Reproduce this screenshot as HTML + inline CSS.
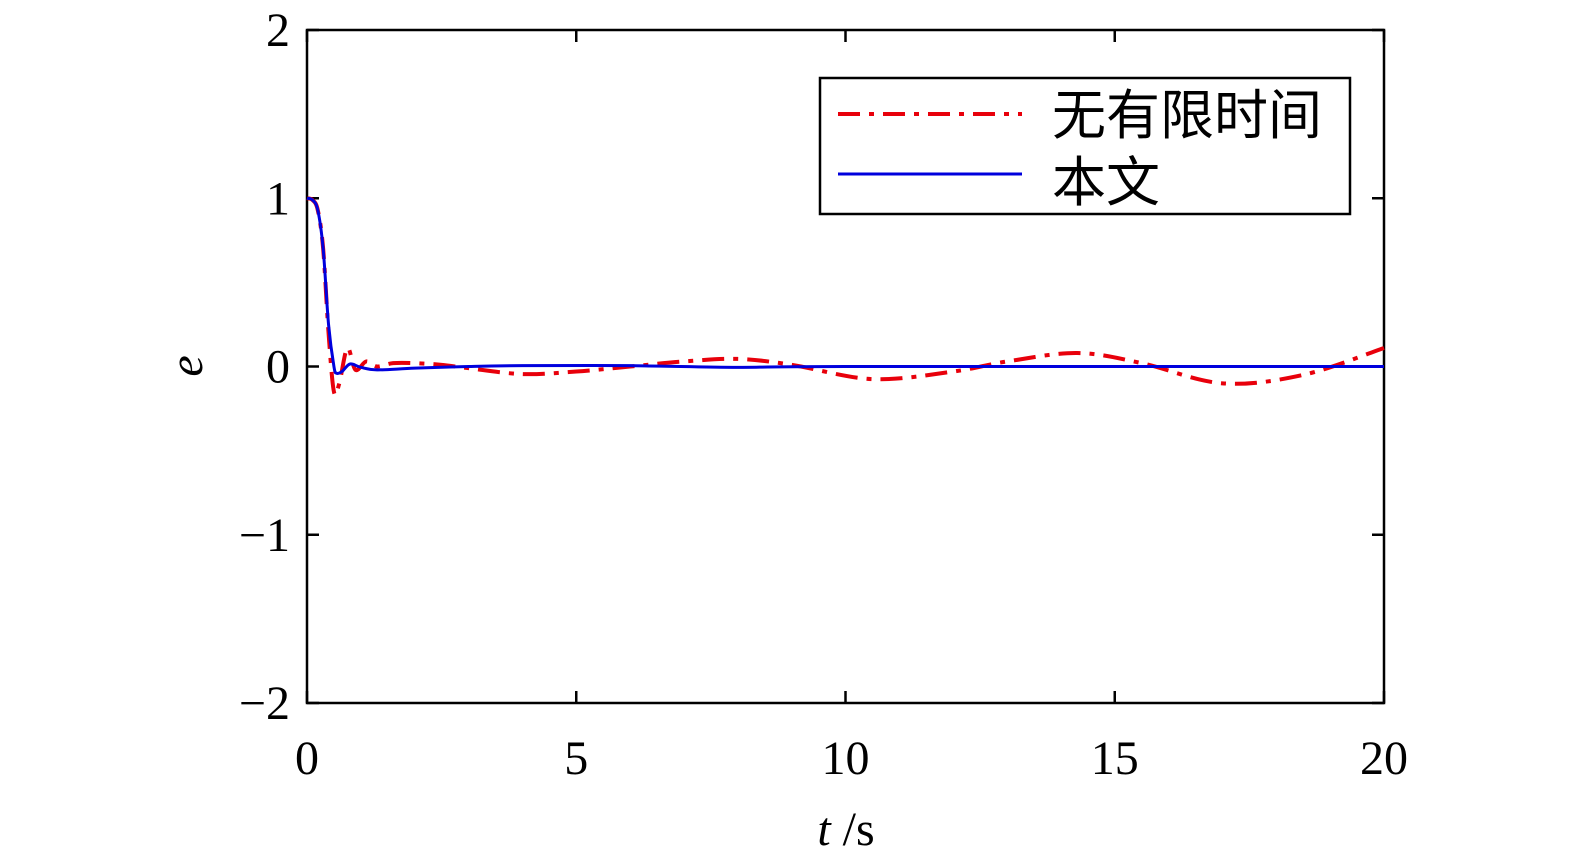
<!DOCTYPE html>
<html><head><meta charset="utf-8"><style>
body{margin:0;background:#fff}
svg text{font-family:"Liberation Serif","Noto Serif CJK SC",serif;fill:#000}
</style></head><body>
<svg width="1575" height="862">
<g id="axes"></g>
<g id="series"></g>
<g>
<rect x="820" y="78" width="530" height="136" fill="#fff" stroke="#000" stroke-width="2.5"/>
<line x1="838" y1="114" x2="1022" y2="114" stroke="#e8000b" stroke-width="4" stroke-dasharray="22,9,5,9"/>
<text x="1052" y="134" font-size="54" style="font-family:'Noto Sans CJK SC',sans-serif">无有限时间</text>
<line x1="838" y1="174" x2="1022" y2="174" stroke="#0000dd" stroke-width="3"/>
<text x="1052" y="201" font-size="54" style="font-family:'Noto Sans CJK SC',sans-serif">本文</text>
</g>
<text x="202" y="366" font-size="48" font-style="italic" text-anchor="middle" transform="rotate(-90 202 366)">e</text>
<text x="846" y="845" font-size="48" text-anchor="middle"><tspan font-style="italic">t</tspan> /s</text>
</svg>
<script>
const xTicks=[0,5,10,15,20];
const yTicks=[-2,-1,0,1,2];
const redT=[0,0.1,0.2,0.3,0.4,0.5,0.6,0.75,0.9,1.1,1.3,1.6,2,2.5,3,4,5,6,7,8,9,10.5,12,13,14.3,15.5,17,18.5,20];
const redE=[1,0.99,0.93,0.7,0.2,-0.15,-0.1,0.11,-0.02,0.03,0.0,0.02,0.02,0.01,-0.01,-0.045,-0.03,0.0,0.03,0.045,0.01,-0.075,-0.03,0.03,0.08,0.02,-0.1,-0.05,0.11];
const blueT=[0,0.1,0.2,0.3,0.4,0.5,0.55,0.65,0.8,1.0,1.3,2,3,4,6,8,10,20];
const blueE=[1,0.99,0.93,0.7,0.25,0.0,-0.04,-0.03,0.015,-0.005,-0.02,-0.01,0.0,0.005,0.005,-0.005,0.0,0.0];
const X0=307,X1=1384,Y0=703,Y1=30;
const sx=t=>X0+t/20*(X1-X0);
const sy=v=>Y0-(v+2)/4*(Y0-Y1);
const NS="http://www.w3.org/2000/svg";
const ax=document.getElementById('axes');
function el(tag,attrs,parent){const e=document.createElementNS(NS,tag);for(const k in attrs)e.setAttribute(k,attrs[k]);parent.appendChild(e);return e;}
const frame=el('rect',{x:X0,y:Y1,width:X1-X0,height:Y0-Y1,fill:'none',stroke:'#000','stroke-width':2.5},ax);


xTicks.forEach(t=>{
 const x=sx(t);
 el('line',{x1:x,y1:Y0,x2:x,y2:Y0-12,stroke:'#000','stroke-width':2.5},ax);
 el('line',{x1:x,y1:Y1,x2:x,y2:Y1+12,stroke:'#000','stroke-width':2.5},ax);
 const tx=el('text',{x:x,y:774,'font-size':48,'text-anchor':'middle'},ax);
 tx.textContent=t;
 
 
});
yTicks.forEach(v=>{
 const y=sy(v);
 el('line',{x1:X0,y1:y,x2:X0+12,y2:y,stroke:'#000','stroke-width':2.5},ax);
 el('line',{x1:X1,y1:y,x2:X1-12,y2:y,stroke:'#000','stroke-width':2.5},ax);
 const tx=el('text',{x:290,y:y+16,'font-size':48,'text-anchor':'end'},ax);
 tx.textContent=v<0?'\u2212'+(-v):v;
 
 
});
function smooth(T,E){
 const p=T.map((t,i)=>[sx(t),sy(E[i])]);
 let d='M'+p[0][0]+','+p[0][1];
 for(let i=0;i<p.length-1;i++){
  const a=p[Math.max(0,i-1)],b=p[i],c=p[i+1],e=p[Math.min(p.length-1,i+2)];
  const c1=[b[0]+(c[0]-a[0])/6,b[1]+(c[1]-a[1])/6],c2=[c[0]-(e[0]-b[0])/6,c[1]-(e[1]-b[1])/6];
  d+=' C'+c1+' '+c2+' '+c;
 }
 return d;
}
const sg=document.getElementById('series');
const r=el('path',{d:smooth(redT,redE),fill:'none',stroke:'#e8000b','stroke-width':4,'stroke-dasharray':'22,9,5,9'},sg);


const b=el('path',{d:smooth(blueT,blueE),fill:'none',stroke:'#0000dd','stroke-width':3},sg);


</script>
</body></html>
